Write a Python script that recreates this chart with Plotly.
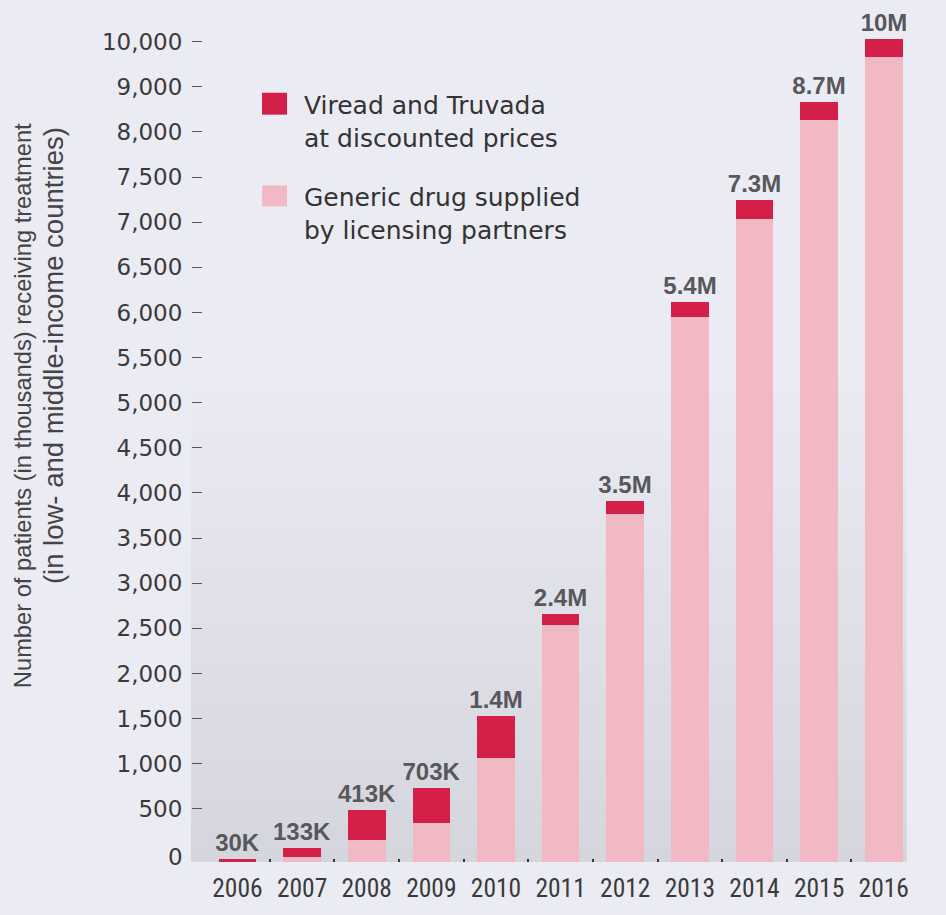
import plotly.graph_objects as go

# ---------------- data ----------------
years = [2006, 2007, 2008, 2009, 2010, 2011, 2012, 2013, 2014, 2015, 2016]
# segment heights (axis units) measured from the bar baseline
generic = [0, 52, 246, 434, 1151, 2624, 3856, 6042, 7128, 8221, 8917]
discounted = [33, 106, 335, 383, 468, 125, 143, 159, 206, 199, 199]
value_labels = ["30K", "133K", "413K", "703K", "1.4M", "2.4M", "3.5M", "5.4M", "7.3M", "8.7M", "10M"]
tick_values = [0, 500, 1000, 1500, 2000, 2500, 3000, 3500, 4000, 4500, 5000,
               5500, 6000, 6500, 7000, 7500, 8000, 8500, 9000]
tick_labels = ["0", "500", "1,000", "1,500", "2,000", "2,500", "3,000", "3,500",
               "4,000", "4,500", "5,000", "5,500", "6,000", "6,500", "7,000",
               "7,500", "8,000", "9,000", "10,000"]
name_discounted = "Viread and Truvada<br>at discounted prices"
name_generic = "Generic drug supplied<br>by licensing partners"
y_title_1 = "Number of patients (in thousands) receiving treatment"
y_title_2 = "(in low- and middle-income countries)"

# ---------------- style ----------------
W, H = 946, 915
L, R, T, B = 203, 39, 20, 50
BASE = -88
Y_MAX = 9240
X_RANGE = [2005.467, 2016.36]
RED = "#D41F48"
PINK = "#F0B9C4"
BG = "#EBEBF4"
GRAD_BOTTOM = (213, 213, 221)
GRAD_TOP = (235, 235, 244)
TICK_FONT = dict(family="DejaVu Sans, sans-serif", size=23, color="#3A3A3A")

plot_w = W - L - R
plot_h = H - T - B


def px_x(px):
    return (px - L) / plot_w


def px_y(py):
    return 1 - (py - T) / plot_h


fig = go.Figure()

fig.add_trace(go.Bar(
    x=years, y=generic, base=[BASE] * len(years),
    marker=dict(color=PINK, line=dict(width=0)),
    width=0.582, name="generic", showlegend=False, hoverinfo="skip",
))
fig.add_trace(go.Bar(
    x=years, y=discounted, base=[BASE + g for g in generic],
    marker=dict(color=RED, line=dict(width=0)),
    width=0.582, name="discounted", showlegend=False, hoverinfo="skip",
    text=value_labels, textposition="outside", constraintext="none",
    textfont=dict(family="Liberation Sans, Arial, sans-serif", size=24,
                  color="#58585C", weight="bold"),
    cliponaxis=False,
))

shapes = []
# vertical gradient behind the bars
n_bands = 70
g_top_px, g_bot_px = 360, 865
for k in range(n_bands):
    t0 = k / n_bands
    t1 = (k + 1) / n_bands
    y_top = g_top_px + (g_bot_px - g_top_px) * t0
    y_bot = g_top_px + (g_bot_px - g_top_px) * t1
    f = (t0 + t1) / 2
    c = tuple(round(GRAD_TOP[i] + (GRAD_BOTTOM[i] - GRAD_TOP[i]) * f) for i in range(3))
    shapes.append(dict(type="rect", xref="paper", yref="paper", layer="below",
                       x0=px_x(191), x1=px_x(906.7), y0=px_y(y_bot), y1=px_y(y_top) + 0.0005,
                       fillcolor="rgb(%d,%d,%d)" % c, line=dict(width=0)))

# legend swatches
shapes.append(dict(type="rect", xref="paper", yref="paper", x0=px_x(262), x1=px_x(287),
                   y0=px_y(115), y1=px_y(93), fillcolor=RED, line=dict(width=0)))
shapes.append(dict(type="rect", xref="paper", yref="paper", x0=px_x(262), x1=px_x(287),
                   y0=px_y(207), y1=px_y(186), fillcolor=PINK, line=dict(width=0)))

legend_font = dict(family="DejaVu Sans, sans-serif", size=25, color="#333333")
annotations = [
    dict(xref="paper", yref="paper", x=px_x(302), y=px_y(122), xanchor="left", yanchor="middle",
         text=name_discounted, showarrow=False, align="left", font=legend_font),
    dict(xref="paper", yref="paper", x=px_x(302), y=px_y(215), xanchor="left", yanchor="middle",
         text=name_generic, showarrow=False, align="left", font=legend_font),
    dict(xref="paper", yref="paper", x=px_x(23), y=px_y(122), xanchor="center", yanchor="top",
         text=y_title_1, textangle=-90, showarrow=False,
         font=dict(family="Liberation Sans, Arial, sans-serif", size=23.7, color="#444444")),
    dict(xref="paper", yref="paper", x=px_x(53), y=px_y(126), xanchor="center", yanchor="top",
         text=y_title_2, textangle=-90, showarrow=False,
         font=dict(family="Liberation Sans, Arial, sans-serif", size=27.5, color="#444444")),
    # the "0" label has no tick mark in the original
    dict(xref="paper", yref="y", x=px_x(185), y=tick_values[0], xanchor="right", yanchor="middle",
         yshift=-3, text=tick_labels[0], showarrow=False, font=TICK_FONT),
]

fig.update_layout(
    width=W, height=H,
    margin=dict(l=L, r=R, t=T, b=B, pad=0),
    paper_bgcolor=BG, plot_bgcolor="rgba(0,0,0,0)",
    barmode="overlay", bargap=0,
    shapes=shapes, annotations=annotations,
    showlegend=False,
)
fig.update_xaxes(
    range=X_RANGE, tickmode="array", tickvals=years, ticktext=[str(y) for y in years],
    ticks="", showgrid=False, zeroline=False, showline=False,
    tickfont=dict(family="Liberation Sans Narrow, Roboto Condensed, Liberation Sans, sans-serif",
                  size=25.5, color="#3A3A3A"),
    ticklabelstandoff=8,
    minor=dict(tickmode="array", tickvals=[y + 0.5 for y in years[:-1]], ticks="inside",
               ticklen=3, tickwidth=1.5, tickcolor="#333333", showgrid=False),
)
fig.update_yaxes(
    range=[BASE, Y_MAX], tickmode="array", tickvals=tick_values[1:], ticktext=tick_labels[1:],
    ticks="outside", ticklen=10, tickwidth=1, tickcolor="#555555",
    showgrid=False, zeroline=False, showline=False,
    tickfont=TICK_FONT,
    ticklabelstandoff=5,
)

fig.write_html(
    "out.html",
    config={"displayModeBar": False},
    post_script="document.body.style.margin='0';document.body.style.background='%s';" % BG,
)
